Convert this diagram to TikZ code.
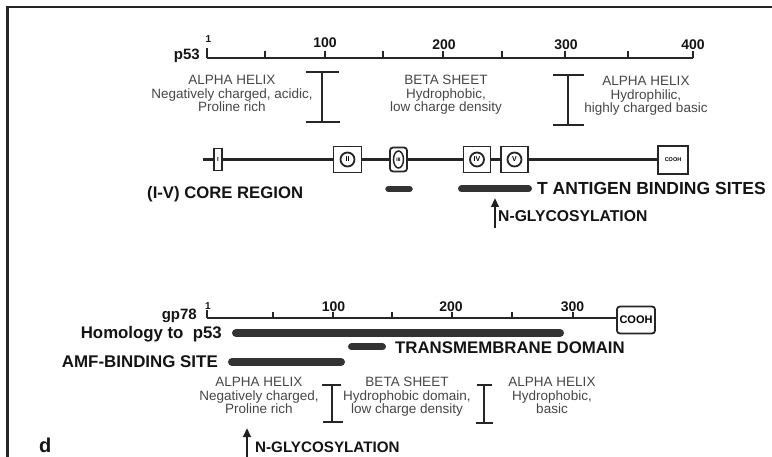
\documentclass[tikz,border=0pt]{standalone}
\usepackage{fontspec}
\setmainfont{Liberation Sans}
\usetikzlibrary{arrows.meta,shapes.geometric}
\newcommand\myfs[1]{\fontsize{#1}{#1}\selectfont}
\begin{document}
\begin{tikzpicture}[x=1pt,y=-1pt,
  frame/.style={line width=2.5pt, black!85},
  axis/.style={line width=1.6pt, black!85},
  tick/.style={line width=1.4pt, black!85},
  ibar/.style={line width=2.8pt, black!85},
  bar/.style={line cap=round, black!80},
  dline/.style={line width=2.2pt, black!85},
  dbox/.style={draw=black!85, line width=1.8pt, fill=white, inner sep=0pt},
  dcirc/.style={draw=black!85, line width=1.8pt, circle, inner sep=0pt, minimum size=14pt, font=\myfs{7}\bfseries},
  lbl/.style={inner sep=0pt, text=black!92},
  num/.style={inner sep=0pt, anchor=base, text=black!92},
  desc/.style={inner sep=0pt, anchor=north, align=center, text=black!72, font={\fontsize{13.5}{13.4}\selectfont}},
  glyarrow/.style={line width=2.5pt, black!88, -{Triangle[width=7.5pt,length=9pt]}}
]
\useasboundingbox (0,0) rectangle (772,457);
\fill[white] (0,0) rectangle (772,457);

% frame
\draw[frame] (7.5,457) -- (7.5,7) -- (772,7);

% ---------------- p53 ----------------
\node[lbl, anchor=base east, font=\myfs{15}\bfseries] (p53) at (200,60) {p53};
\coordinate (a0) at (207,58);
\coordinate (a400) at (693,58);
\draw[axis] (a0) -- (a400);
\draw[tick] (207,58) -- (207,48);
\foreach \x in {265,325,383,443,502,565,628,693} \draw[tick] (\x,58) -- (\x,51.5);
\node[num, font=\myfs{10}\bfseries] (n1) at (208.5,43) {1};
\node[num, font=\myfs{14}\bfseries] (n100) at (325,48) {100};
\node[num, font=\myfs{14}\bfseries] (n200) at (444,50) {200};
\node[num, font=\myfs{14}\bfseries] (n300) at (566,50) {300};
\node[num, font=\myfs{14}\bfseries] (n400) at (693,50) {400};

\node[desc] (t1) at (232,75.3) {ALPHA HELIX\\Negatively charged, acidic,\\Proline rich};
\node[desc] (t2) at (446,75.3) {BETA SHEET\\Hydrophobic,\\low charge density};
\node[desc] (t3) at (646,76.3) {ALPHA HELIX\\Hydrophilic,\\highly charged basic};

\draw[ibar] (322,72) -- (322,122);
\draw[ibar] (306,72) -- (339,72);
\draw[ibar] (306,122) -- (340,122);
\draw[ibar] (568,75) -- (568,125);
\draw[ibar] (553,75) -- (584,75);
\draw[ibar] (553,125) -- (584,125);

% domain line
\coordinate (dstart) at (203,159.5);
\node[dbox, minimum width=8pt, minimum height=22pt, font=\myfs{6}\bfseries] (b1) at (218,159.5) {I};
\node[dbox, minimum width=28pt, minimum height=26pt] (b2) at (347.5,159.5) {};
\node[dbox, rounded corners=3pt, minimum width=17pt, minimum height=24pt] (b3) at (398.5,159.5) {};
\node[dbox, minimum width=27pt, minimum height=26pt] (b4) at (477,159.5) {};
\node[dbox, minimum width=27pt, minimum height=26pt] (b5) at (514.5,159.5) {};
\node[dbox, minimum width=30pt, minimum height=28pt, font=\myfs{5.5}\bfseries] (b6) at (673,160) {COOH};
\node[dcirc] (c2) at (b2) {II};
\node[draw=black!85, line width=1.5pt, ellipse, inner sep=0pt, minimum width=10pt, minimum height=17pt, font=\myfs{5}\bfseries] (c3) at (b3) {III};
\node[dcirc] (c4) at (b4) {IV};
\node[dcirc] (c5) at (b5) {V};
\draw[dline] (dstart) -- (b1);
\draw[dline] (b1) -- (b2);
\draw[dline] (b2) -- (b3);
\draw[dline] (b3) -- (b4);
\draw[dline] (b4) -- (b5);
\draw[dline] (b5) -- (b6.west |- b5);

\node[lbl, anchor=base west, font=\myfs{16.7}\bfseries] (core) at (147,199) {(I-V) CORE REGION};
\draw[bar, line width=6.5pt] (388.5,189) -- (409.5,189);
\draw[bar, line width=7pt] (461.5,189) -- (528.5,189);
\node[lbl, anchor=base west, font=\myfs{17.5}\bfseries] (tag) at (537,195) {T ANTIGEN BINDING SITES};

\coordinate (g1s) at (495,228);
\coordinate (g1e) at (495,198);
\draw[glyarrow] (g1s) -- (g1e);
\node[lbl, anchor=base west, font=\myfs{15.7}\bfseries] (gly1) at (498,222) {N-GLYCOSYLATION};

% ---------------- gp78 ----------------
\node[lbl, anchor=base east, font=\myfs{15}\bfseries] (gp78) at (197,320) {gp78};
\coordinate (b0) at (207,318);
\node[dbox, rounded corners=3pt, minimum width=38pt, minimum height=27pt, font=\myfs{11}\bfseries] (cooh2) at (636,320) {COOH};
\draw[axis] (b0) -- (cooh2.west |- b0);
\draw[tick] (207,318) -- (207,310);
\foreach \x in {273,333,392,452,512,573} \draw[tick] (\x,318) -- (\x,312);
\node[num, font=\myfs{10}\bfseries] (m1) at (208,310) {1};
\node[num, font=\myfs{14}\bfseries] (m100) at (333.5,312) {100};
\node[num, font=\myfs{14}\bfseries] (m200) at (451,312) {200};
\node[num, font=\myfs{14}\bfseries] (m300) at (572.5,312) {300};

\node[lbl, anchor=base east, font=\myfs{16.8}\bfseries] (hom) at (222,339) {Homology to\ \ p53};
\draw[bar, line width=8pt] (236,333) -- (560,333);
\draw[bar, line width=7pt] (351.5,347) -- (382.5,347);
\node[lbl, anchor=base west, font=\myfs{16.8}\bfseries] (tm) at (395,354) {TRANSMEMBRANE DOMAIN};
\node[lbl, anchor=base east, font=\myfs{16.9}\bfseries] (amf) at (218,368) {AMF-BINDING SITE};
\draw[bar, line width=8pt] (232,362) -- (341,362);

\node[desc] (t4) at (259,377.3) {ALPHA HELIX\\Negatively charged,\\Proline rich};
\node[desc] (t5) at (407,377.3) {BETA SHEET\\Hydrophobic domain,\\low charge density};
\node[desc] (t6) at (552,377.3) {ALPHA HELIX\\Hydrophobic,\\basic};

\draw[ibar] (332,385) -- (332,422);
\draw[ibar] (322,385) -- (341,385);
\draw[ibar] (323,422) -- (343,422);
\draw[ibar] (484,385) -- (484,423);
\draw[ibar] (477,385) -- (492,385);
\draw[ibar] (476,423) -- (493,423);

\node[lbl, anchor=base west, font=\myfs{20}\bfseries] (dl) at (39,452) {d};
\coordinate (g2s) at (247,458);
\coordinate (g2e) at (247,428);
\draw[glyarrow] (g2s) -- (g2e);
\node[lbl, anchor=base west, font=\myfs{15.2}\bfseries] (gly2) at (255,453) {N-GLYCOSYLATION};
\end{tikzpicture}
\end{document}
